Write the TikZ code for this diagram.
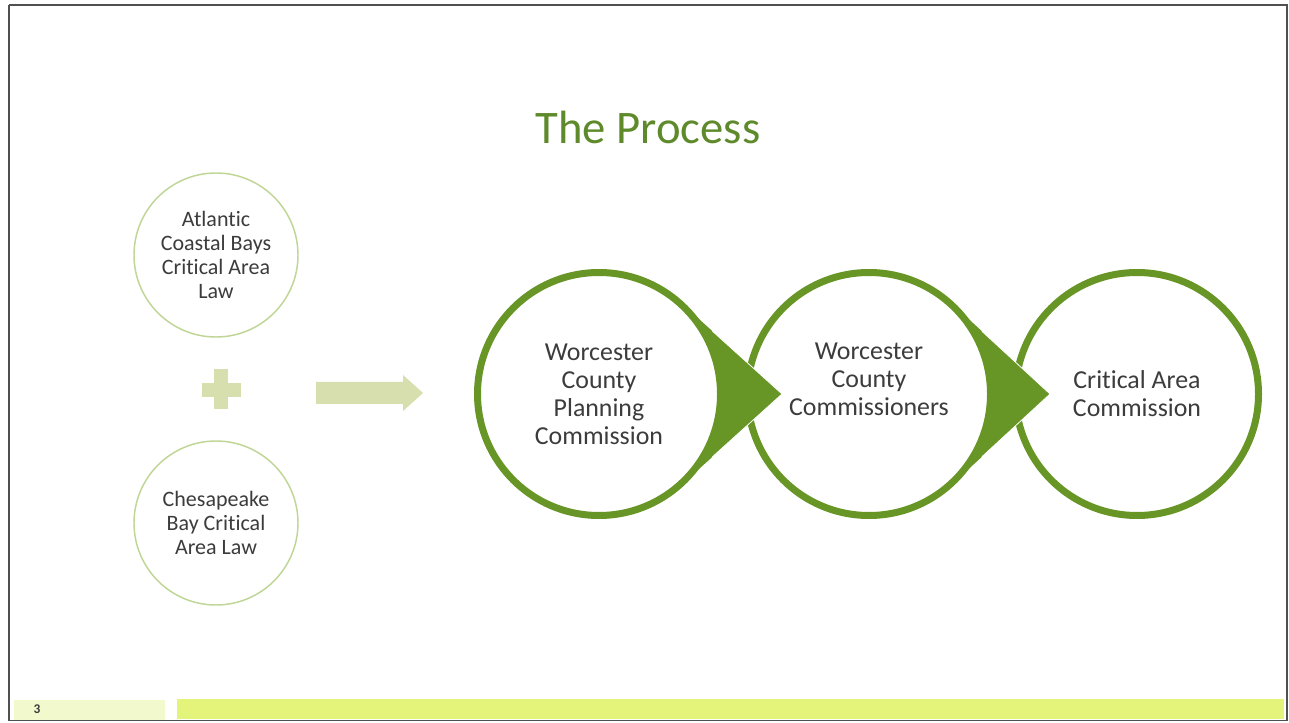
\documentclass[tikz,border=0pt]{standalone}
\usepackage{fontspec}
\setmainfont[Ligatures=NoCommon]{Carlito}
\usetikzlibrary{calc}
\definecolor{ring}{RGB}{104,150,38}
\definecolor{titlegreen}{RGB}{94,138,44}
\definecolor{ink}{RGB}{60,60,60}
\definecolor{softring}{RGB}{192,214,150}
\definecolor{paleolive}{RGB}{216,223,174}
\definecolor{barlime}{RGB}{228,243,122}
\definecolor{barpale}{RGB}{242,249,205}
\definecolor{framegray}{RGB}{80,80,80}
\begin{document}
\begin{tikzpicture}[x=0.75pt,y=0.75pt,
  lawcircle/.style={circle, draw=softring, line width=1.1pt, fill=white,
    minimum size=123pt, inner sep=0pt, text=ink, align=center,
    font=\fontsize{16.5}{18}\selectfont},
  stagecircle/.style={circle, draw=ring, line width=5.25pt, fill=white,
    minimum size=182.25pt, inner sep=0pt},
  stagetext/.style={text=ink, align=center, font=\fontsize{19.4}{21}\selectfont},
  chevron/.style={fill=ring},
  chevronedge/.style={draw=white, line width=0.6pt},
  symbolfill/.style={fill=paleolive}]
\useasboundingbox (0,0) rectangle (1289,722);
\fill[white] (0,0) rectangle (1289,722);

% slide frame
\draw[framegray, line width=1.6pt] (9,717) -- (1288,717);
\draw[framegray, line width=1.5pt] (9,717) -- (9,1);
\draw[framegray, line width=0.8pt] (1287,717) -- (1287,1);
\draw[framegray, line width=1pt] (9,1.5) -- (1287,1.5);

% title
\node[text=titlegreen, font=\fontsize{35}{40}\selectfont, anchor=base] (title) at (648,578) {The Process};

% the two source laws
\node[lawcircle] (acb) at (216,467) {Atlantic\\Coastal Bays\\Critical Area\\Law};
\node[lawcircle] (cbc) at (216,199) {Chesapeake\\Bay Critical\\Area Law};

% plus sign
\fill[symbolfill] (202,325) rectangle (241,339);
\fill[symbolfill] (214,313) rectangle (228,353);

% block arrow
\fill[symbolfill] (316,318) -- (403,318) -- (403,311) -- (423,329)
  -- (403,347) -- (403,340) -- (316,340) -- cycle;

% process stages
\node[stagecircle] (pc) at (599,328) {};
\node[stagecircle] (cc) at (869,328) {};
\node[stagecircle] (cac) at (1137,328) {};

% pointed ends leading from one stage into the next
\coordinate (t1) at (782,328);
\coordinate (t2) at (1050,328);
\coordinate (p1a) at ($(pc.center)+(-47:92pt)$);
\coordinate (p1b) at ($(pc.center)+(47:92pt)$);
\coordinate (p2a) at ($(cc.center)+(-47:92pt)$);
\coordinate (p2b) at ($(cc.center)+(47:92pt)$);
\fill[chevron] (p1a) arc[start angle=-47, end angle=47, radius=92pt] -- (t1) -- cycle;
\fill[chevron] (p2a) arc[start angle=-47, end angle=47, radius=92pt] -- (t2) -- cycle;
\draw[chevronedge] ($(p1b)!0.3!(t1)$) -- (t1) -- ($(p1a)!0.3!(t1)$);
\draw[chevronedge] ($(p2b)!0.3!(t2)$) -- (t2) -- ($(p2a)!0.3!(t2)$);

\node[stagetext] (pcl) at (pc.center) {Worcester\\County\\Planning\\Commission};
\node[stagetext] (ccl) at (869,343) {Worcester\\County\\Commissioners};
\node[stagetext] (cacl) at (cac.center) {Critical Area\\Commission};

% footer bars
\fill[barpale] (14,2) rectangle (165,22);
\fill[barlime] (177,3) rectangle (1284,23);
\node[text=ink, font=\fontsize{10}{11}\selectfont\bfseries, anchor=base] (pg) at (37,9) {3};
\end{tikzpicture}
\end{document}
